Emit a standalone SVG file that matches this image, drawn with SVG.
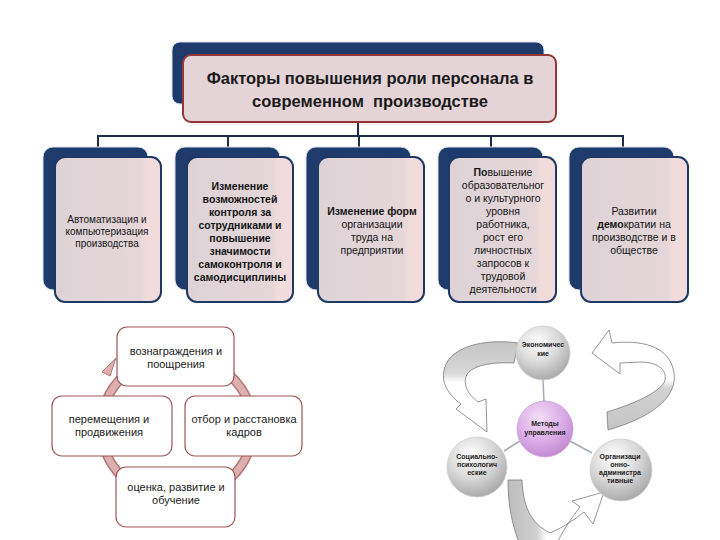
<svg xmlns="http://www.w3.org/2000/svg" width="720" height="540" viewBox="0 0 720 540">
<defs>
<linearGradient id="pinkFill" x1="0" y1="0" x2="1" y2="0">
<stop offset="0" stop-color="#DDD3D7"/>
<stop offset="0.8" stop-color="#E4D6D9"/>
<stop offset="0.86" stop-color="#F1DCDB"/>
<stop offset="1" stop-color="#F2DCDB"/>
</linearGradient>
<radialGradient id="grayBall" cx="0.4" cy="0.3" r="0.75">
<stop offset="0" stop-color="#FFFFFF"/>
<stop offset="0.5" stop-color="#DADADA"/>
<stop offset="1" stop-color="#A4A4A4"/>
</radialGradient>
<radialGradient id="purpleBall" cx="0.4" cy="0.3" r="0.75">
<stop offset="0" stop-color="#F4DDF8"/>
<stop offset="0.6" stop-color="#D9A9E6"/>
<stop offset="1" stop-color="#BE86CF"/>
</radialGradient>
<linearGradient id="arrA" x1="0" y1="0" x2="0" y2="1">
<stop offset="0" stop-color="#C4C4C4"/>
<stop offset="0.35" stop-color="#D8D8D8"/>
<stop offset="0.45" stop-color="#FFFFFF"/>
<stop offset="1" stop-color="#FFFFFF"/>
</linearGradient>
<linearGradient id="arrB" x1="0" y1="0" x2="0" y2="1">
<stop offset="0" stop-color="#FFFFFF"/>
<stop offset="0.5" stop-color="#FFFFFF"/>
<stop offset="0.58" stop-color="#D2D2D2"/>
<stop offset="1" stop-color="#C4C4C4"/>
</linearGradient>
<linearGradient id="arrC" x1="0" y1="0" x2="1" y2="0">
<stop offset="0" stop-color="#BDBDBD"/>
<stop offset="0.3" stop-color="#D0D0D0"/>
<stop offset="0.4" stop-color="#FFFFFF"/>
<stop offset="1" stop-color="#FFFFFF"/>
</linearGradient>
</defs>
<style>
.back{fill:#1F3B6B;stroke:#D6DEE8;stroke-width:1}
.front{fill:url(#pinkFill);stroke:#1F3864;stroke-width:2}
.tfront{fill:#E4D3D7;stroke:#943634;stroke-width:2}
.t{font-family:"Liberation Sans",Arial,sans-serif;fill:#141414;text-anchor:middle}
.s10{font-size:10px}
.s11{font-size:10.5px}
.b{font-weight:bold}
.title{font-family:"Liberation Sans",Arial,sans-serif;font-size:16.5px;font-weight:bold;fill:#1a1a1a;text-anchor:middle}
.cyc{fill:#FFFFFF;stroke:#9C5555;stroke-width:1.2}
.ct{font-family:"Liberation Sans",Arial,sans-serif;font-size:11px;fill:#222;text-anchor:middle}
.ball{fill:url(#grayBall);stroke:#CFCFCF;stroke-width:0.8}
.mt{font-family:"Liberation Sans",Arial,sans-serif;font-size:7px;font-weight:bold;fill:#222;text-anchor:middle}
.arrow{stroke:#7A7A7A;stroke-width:0.8}
</style>
<rect width="720" height="540" fill="#FFFFFF"/>

<g id="connectors" fill="none" stroke="#1F2F4A" stroke-width="2">
<path d="M358 122 V136 M97 136 H624 M98 136 V147 M228 136 V147 M359 136 V147 M491 136 V147 M623 136 V147"/>
</g>

<g id="title">
<rect class="back" x="172" y="42" width="372" height="62" rx="8"/>
<rect class="tfront" x="183" y="55" width="373" height="67" rx="8"/>
<text class="title" x="370" y="84">Факторы повышения роли персонала в</text>
<text class="title" x="370" y="107" xml:space="preserve">современном  производстве</text>
</g>

<g id="box1">
<rect class="back" x="43" y="147" width="105" height="143" rx="10"/>
<rect class="front" x="55" y="157" width="106" height="145" rx="10"/>
<text class="t s10" x="107" y="223">Автоматизация и</text>
<text class="t s10" x="107" y="235">компьютеризация</text>
<text class="t s10" x="107" y="247">производства</text>
</g>

<g id="box2">
<rect class="back" x="175" y="147" width="105" height="143" rx="10"/>
<rect class="front" x="187" y="157" width="106" height="145" rx="10"/>
<text class="t s11 b" x="240" y="190">Изменение</text>
<text class="t s11 b" x="240" y="203">возможностей</text>
<text class="t s11 b" x="240" y="216">контроля за</text>
<text class="t s11 b" x="240" y="229">сотрудниками и</text>
<text class="t s11 b" x="240" y="242">повышение</text>
<text class="t s11 b" x="240" y="255">значимости</text>
<text class="t s11 b" x="240" y="268">самоконтроля и</text>
<text class="t s11 b" x="240" y="281">самодисциплины</text>
</g>

<g id="box3">
<rect class="back" x="306" y="147" width="105" height="143" rx="10"/>
<rect class="front" x="318" y="157" width="106" height="145" rx="10"/>
<text class="t s11" x="372" y="215"><tspan class="b">Изменение форм</tspan></text>
<text class="t s11" x="372" y="228">организации</text>
<text class="t s11" x="372" y="241">труда на</text>
<text class="t s11" x="372" y="254">предприятии</text>
</g>

<g id="box4">
<rect class="back" x="438" y="147" width="105" height="143" rx="10"/>
<rect class="front" x="449" y="157" width="107" height="145" rx="10"/>
<text class="t s11" x="503" y="176"><tspan class="b">По</tspan>вышение</text>
<text class="t s11" x="503" y="189">образовательног</text>
<text class="t s11" x="503" y="202">о и культурного</text>
<text class="t s11" x="503" y="215">уровня</text>
<text class="t s11" x="503" y="228">работника,</text>
<text class="t s11" x="503" y="241">рост его</text>
<text class="t s11" x="503" y="254">личностных</text>
<text class="t s11" x="503" y="267">запросов к</text>
<text class="t s11" x="503" y="280">трудовой</text>
<text class="t s11" x="503" y="293">деятельности</text>
</g>

<g id="box5">
<rect class="back" x="569" y="147" width="105" height="143" rx="10"/>
<rect class="front" x="581" y="157" width="107" height="145" rx="10"/>
<text class="t s11" x="634" y="215">Развитии</text>
<text class="t s11" x="634" y="228"><tspan class="b">демо</tspan>кратии на</text>
<text class="t s11" x="634" y="241">производстве и в</text>
<text class="t s11" x="634" y="254">обществе</text>
</g>

<g id="cycle-ring">
<ellipse cx="177" cy="427" rx="76" ry="72" fill="none" stroke="#B27676" stroke-width="10"/>
<ellipse cx="177" cy="427" rx="76" ry="72" fill="none" stroke="#DDAFAF" stroke-width="7"/>
<polygon points="102,372 116,358 110,376" fill="#DDAFAF" stroke="#B27676" stroke-width="1"/>
</g>

<g id="cyc-top">
<rect class="cyc" x="117" y="327" width="117" height="59" rx="10"/>
<text class="ct" x="176" y="355">вознаграждения и</text>
<text class="ct" x="176" y="368">поощрения</text>
</g>
<g id="cyc-left">
<rect class="cyc" x="52" y="396" width="120" height="60" rx="10"/>
<text class="ct" x="109" y="423">перемещения и</text>
<text class="ct" x="109" y="436">продвижения</text>
</g>
<g id="cyc-right">
<rect class="cyc" x="185" y="396" width="117" height="60" rx="10"/>
<text class="ct" x="244" y="423">отбор и расстановка</text>
<text class="ct" x="244" y="436">кадров</text>
</g>
<g id="cyc-bottom">
<rect class="cyc" x="116" y="467" width="119" height="60" rx="10"/>
<text class="ct" x="176" y="491">оценка, развитие и</text>
<text class="ct" x="176" y="504">обучение</text>
</g>

<g id="methods-arrows">
<path class="arrow" fill="url(#arrA)" d="M518 343 C490 339 456 344 446 364 C439 380 447 394 461 404 L456 409 L487 432 L486 399 L478 402 C466 393 462 381 468 373 C476 364 495 362 514 363 Z"/>
<path class="arrow" fill="url(#arrB)" d="M607 412 C630 405 655 395 664 383 C669 371 659 362 640 362 L620 363 L620 374 L592 353 L609 330 L612 343 C640 340 666 345 673 368 C680 392 660 415 608 430 Z"/>
<path class="arrow" fill="url(#arrC)" d="M508 480 L522 480 C523 505 530 523 550 533 C562 528 574 520 584 512 L593 524 L604 492 L572 501 L580 507 C570 520 562 532 556 545 L520 545 C512 525 508 505 508 480 Z"/>
</g>

<g id="methods-links" stroke="#A2ADB5" stroke-width="1.5">
<line x1="543" y1="380" x2="544" y2="402"/>
<line x1="520" y1="441" x2="504" y2="451"/>
<line x1="570" y1="441" x2="592" y2="453"/>
</g>

<g id="m-econ">
<circle class="ball" cx="543" cy="353" r="27"/>
<text class="mt" x="543" y="347">Экономичес</text>
<text class="mt" x="543" y="356">кие</text>
</g>
<g id="m-center">
<circle cx="545" cy="429" r="28" fill="url(#purpleBall)" stroke="#C9A2D6" stroke-width="0.8"/>
<text class="mt" x="545" y="426" fill="#2B1A40">Методы</text>
<text class="mt" x="545" y="435" fill="#2B1A40">управления</text>
</g>
<g id="m-social">
<circle class="ball" cx="477" cy="467" r="30"/>
<text class="mt" x="477" y="459">Социально-</text>
<text class="mt" x="477" y="467">психологич</text>
<text class="mt" x="477" y="475">еские</text>
</g>
<g id="m-org">
<circle class="ball" cx="621" cy="470" r="31"/>
<text class="mt" x="620" y="459">Организаци</text>
<text class="mt" x="620" y="467">онно-</text>
<text class="mt" x="620" y="475">администра</text>
<text class="mt" x="620" y="483">тивные</text>
</g>
</svg>
